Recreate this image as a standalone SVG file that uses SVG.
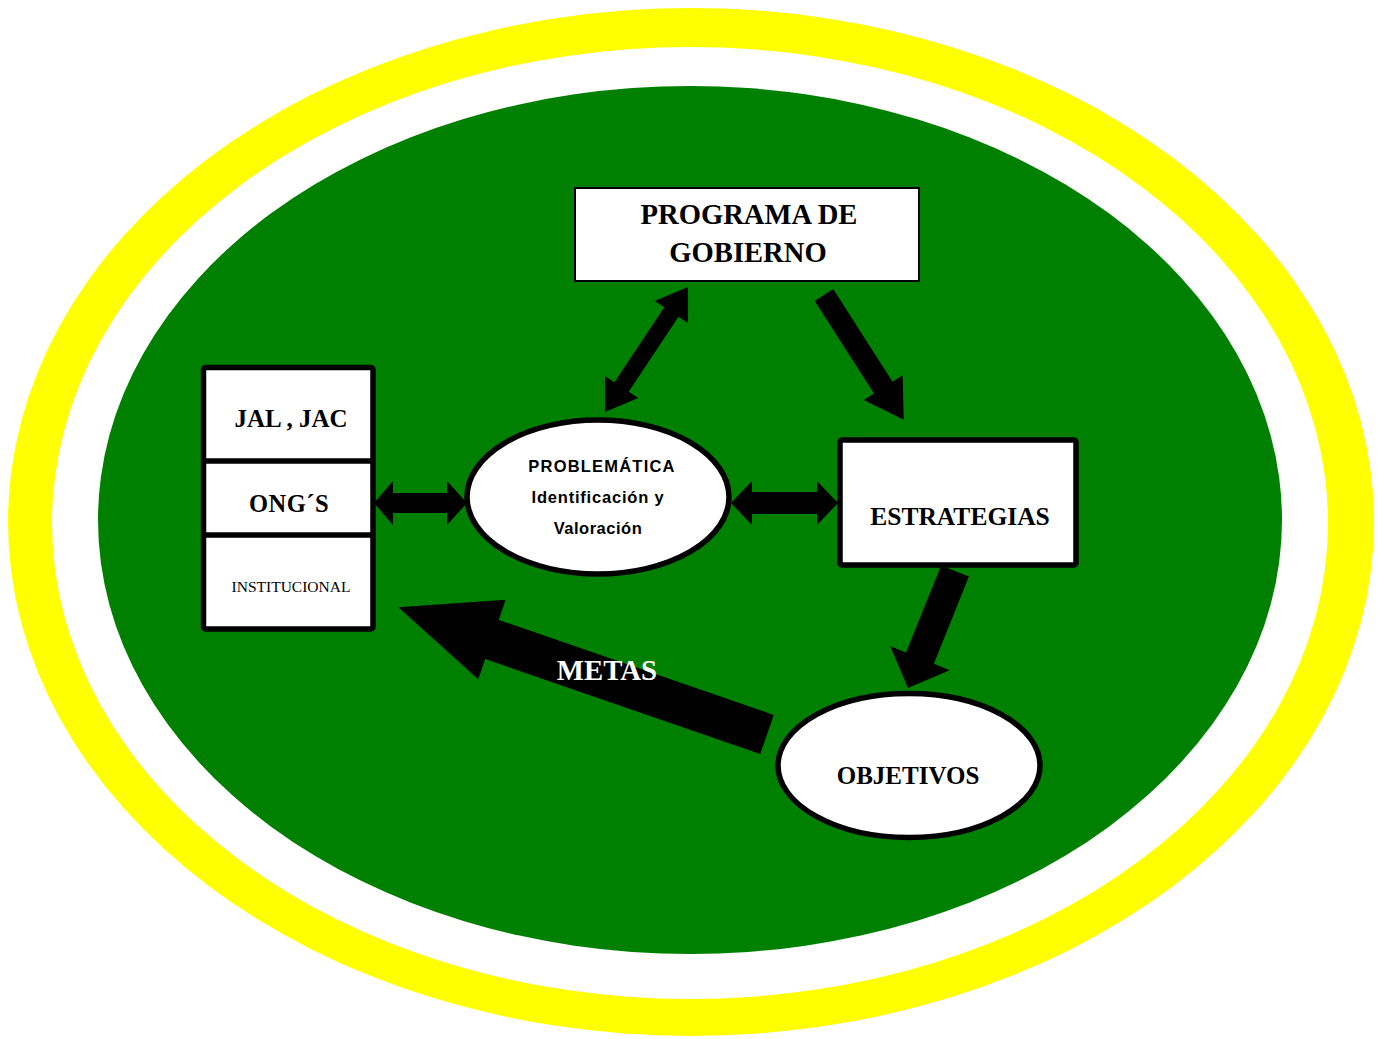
<svg xmlns="http://www.w3.org/2000/svg" width="1383" height="1039" viewBox="0 0 1383 1039">
<style>
.box{fill:#fff;stroke:#000;stroke-width:5.5;stroke-linejoin:round}
.ell{fill:#fff;stroke:#000;stroke-width:5.5}
.ser{font-family:"Liberation Serif","Times New Roman",serif;font-weight:bold;text-anchor:middle;fill:#000}
.san{font-family:"Liberation Sans",Arial,sans-serif;font-weight:bold;text-anchor:middle;fill:#000;font-size:16.5px}
.arr{fill:#000}
</style>
<rect width="1383" height="1039" fill="#fff"/>
<g id="background">
<ellipse cx="691" cy="522" rx="683" ry="514" fill="#ffff00"/>
<ellipse cx="690" cy="523" rx="638" ry="476" fill="#fff"/>
<ellipse cx="690" cy="520" rx="592" ry="434" fill="#008000"/>
</g>
<g id="connectors">
<polygon class="arr" points="374,503 393,481 393,493 447,493 447,481 467,503 447,525 447,513 393,513 393,525"/>
<polygon class="arr" points="731,503 752,481 752,492 817,492 817,481 838,503 817,525 817,514 752,514 752,525"/>
<polygon class="arr" transform="translate(605,412) rotate(-56.4)" points="0,0 30,-20 30,-8.5 120,-8.5 120,-20 150,0 120,20 120,8.5 30,8.5 30,20"/>
<polygon class="arr" transform="translate(824,295) rotate(57.4)" points="0,-11 110,-11 110,-23 148,0 110,23 110,11 0,11"/>
<polygon class="arr" transform="translate(955,571) rotate(111.9)" points="0,-15 94,-15 94,-32 126,0 94,32 94,15 0,15"/>
<polygon class="arr" transform="translate(767,734.5) rotate(199.06)" points="0,-20.7 291,-20.7 291,-42 390,0 291,42 291,20.7 0,20.7"/>
<text class="ser" x="607" y="680" font-size="28.8" style="fill:#fff">METAS</text>
</g>
<g id="programa">
<rect x="575" y="188" width="344" height="93" fill="#fff" stroke="#000" stroke-width="2"/>
<text class="ser" x="749" y="224" font-size="28.6">PROGRAMA DE</text>
<text class="ser" x="748" y="262" font-size="28.6">GOBIERNO</text>
</g>
<g id="actores">
<rect class="box" x="203.5" y="367.5" width="169.5" height="261.5" rx="2"/>
<line x1="203.5" y1="461" x2="373" y2="461" stroke="#000" stroke-width="5.5"/>
<line x1="203.5" y1="535" x2="373" y2="535" stroke="#000" stroke-width="5.5"/>
<text class="ser" x="291" y="427" font-size="25">JAL , JAC</text>
<text class="ser" x="289" y="512" font-size="24.5" letter-spacing="0.5">ONG´S</text>
<text class="ser" x="291" y="592" font-size="15.5" style="font-weight:normal">INSTITUCIONAL</text>
</g>
<g id="problematica">
<ellipse class="ell" cx="598" cy="497" rx="131" ry="77"/>
<text class="san" x="602" y="472" letter-spacing="1.2">PROBLEMÁTICA</text>
<text class="san" x="598" y="503" letter-spacing="0.8">Identificación y</text>
<text class="san" x="598" y="534" letter-spacing="0.5">Valoración</text>
</g>
<g id="estrategias">
<rect class="box" x="840" y="440" width="236" height="125" rx="2"/>
<text class="ser" x="960" y="525" font-size="25.5">ESTRATEGIAS</text>
</g>
<g id="objetivos">
<ellipse class="ell" cx="909" cy="765.5" rx="131" ry="72"/>
<text class="ser" x="908" y="784" font-size="25">OBJETIVOS</text>
</g>
</svg>
